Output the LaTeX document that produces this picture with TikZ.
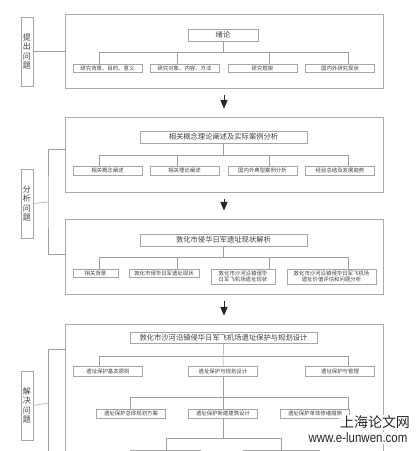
\documentclass[tikz,border=0pt]{standalone}
\usepackage{fontspec}
\newfontfamily\cjk{Noto Sans CJK SC}
\newfontfamily\urlfont[FakeStretch=0.85]{Liberation Sans}
\usetikzlibrary{arrows,positioning}

\begin{document}
\begin{tikzpicture}[x=1pt,y=-1pt]

    \tikzstyle{frame} = [draw=gray!65, line width=0.7pt, rectangle,
    minimum width=318pt, minimum height=75pt, inner sep=0pt]

    \tikzstyle{head} = [draw=gray!70, line width=0.6pt, rectangle, fill=white,
    minimum height=12pt, inner sep=0pt, font=\cjk\fontsize{7.3}{8}\selectfont, text=black!75]

    \tikzstyle{item} = [draw=gray!70, line width=0.5pt, rectangle, fill=white,
    minimum width=69pt, minimum height=8pt, inner sep=0pt, align=center,
    font=\cjk\fontsize{5.4}{6.6}\selectfont, text=black!75]

    \tikzstyle{side} = [draw=gray!70, line width=0.6pt, rectangle,
    minimum width=12pt, minimum height=69pt, inner sep=0pt, align=center,
    font=\cjk\fontsize{8}{9.3}\selectfont, text=black!75]

    \tikzstyle{link} = [draw=gray!75, line width=0.5pt]
    \tikzstyle{flow} = [draw=black!85, line width=1pt, -triangle 45,
    shorten <=7pt, shorten >=8pt]
    \tikzstyle{stamp} = [fill=white, inner sep=1pt, text=black!85]

    \useasboundingbox (0,0) rectangle (420,451);
    \clip (0,0) rectangle (420,451);

    % stages
    \draw
    (224,51) node [frame, minimum height=74pt] (F1) {}
    (224,154.5) node [frame] (F2) {}
    (224,256.5) node [frame] (F3) {}
    (224,404) node [frame, minimum height=160pt] (F4) {}
    (27,51.5) node [side] (L1) {提\\出\\问\\题}
    (27,203.5) node [side] (L2) {分\\析\\问\\题}
    (27,405.5) node [side] (L3) {解\\决\\问\\题}
    ;

    % left brackets
    \coordinate (J2) at (48,202);
    \coordinate (J3) at (48,403);
    \coordinate (K4) at (65,349);
    \coordinate (K5) at (48,470);
    \draw[link] (L1.east) -- (L1.east -| F1.west);
    \draw[link] (L2.east) -- (J2);
    \draw[link] ([yshift=5.5pt]F2.west) -| (J2) |- ([yshift=2.5pt]F3.west);
    \draw[link] (L3.east) -- (J3);
    \draw[link] (K4) -| (K5);

    \draw[flow] (F1) -- (F2);
    \draw[flow] (F2) -- (F3);
    \draw[flow] (F3) -- (F4.north);

    % stage 1
    \draw
    (223,35) node [head, minimum width=70pt] (T1) {绪论}
    (107.5,68) node [item] (A1) {研究背景、目的、意义}
    (184.5,68) node [item] (A2) {研究对象、内容、方法}
    (262.5,68) node [item] (A3) {研究框架}
    (340,68) node [item] (A4) {国内外研究现状}
    ;
    \coordinate (Q1a) at (99,52);
    \coordinate (Q1b) at (177,52);
    \coordinate (Q1c) at (269,52);
    \coordinate (Q1d) at (348,52);
    \draw[link] (Q1a) -- (Q1d);
    \draw[link] (T1) -- (T1 |- Q1a);
    \foreach \q/\n in {Q1a/A1, Q1b/A2, Q1c/A3, Q1d/A4}
      \draw[link] (\q) -- (\q |- \n.north);

    % stage 2
    \draw
    (223.5,137) node [head, minimum width=167pt] (T2) {相关概念理论阐述及实际案例分析}
    (107.5,170.5) node [item, minimum height=9pt] (B1) {相关概念阐述}
    (184.5,170.5) node [item, minimum height=9pt] (B2) {相关理论阐述}
    (262.5,170.5) node [item, minimum height=9pt] (B3) {国内外典型案例分析}
    (340,170.5) node [item, minimum height=9pt] (B4) {经验总结及发展趋势}
    ;
    \coordinate (Q2a) at (99,155);
    \coordinate (Q2b) at (177,155);
    \coordinate (Q2c) at (269,155);
    \coordinate (Q2d) at (348,155);
    \draw[link] (Q2a) -- (Q2d);
    \draw[link] (T2) -- (T2 |- Q2a);
    \foreach \q/\n in {Q2a/B1, Q2b/B2, Q2c/B3, Q2d/B4}
      \draw[link] (\q) -- (\q |- \n.north);

    % stage 3
    \draw
    (223.5,240) node [head, minimum width=167pt] (T3) {敦化市侵华日军遗址现状解析}
    (95.5,273) node [item, minimum width=45pt] (C1) {相关背景}
    (164,273) node [item, minimum width=70pt] (C2) {敦化市侵华日军遗址现状}
    (243,276.5) node [item, minimum width=64pt, minimum height=15pt] (C3)
      {敦化市沙河沿镇侵华\\日军飞机场遗址现状}
    (331.5,276.5) node [item, minimum width=89pt, minimum height=15pt] (C4)
      {敦化市沙河沿镇侵华日军飞机场\\遗址价值评估和问题分析}
    ;
    \coordinate (Q3a) at (99,257);
    \coordinate (Q3b) at (177,257);
    \coordinate (Q3c) at (269,257);
    \coordinate (Q3d) at (348,257);
    \draw[link] (Q3a) -- (Q3d);
    \draw[link] (T3) -- (T3 |- Q3a);
    \foreach \q/\n in {Q3a/C1, Q3b/C2, Q3c/C3, Q3d/C4}
      \draw[link] (\q) -- (\q |- \n.north);

    % stage 4
    \draw
    (223.5,337.5) node [head, minimum width=187pt, minimum height=11pt] (T4)
      {敦化市沙河沿镇侵华日军飞机场遗址保护与规划设计}
    (108,371) node [item, minimum height=10pt] (D1) {遗址保护基本原则}
    (223,371) node [item, minimum height=10pt] (D2) {遗址保护与规划设计}
    (340,371) node [item, minimum height=10pt] (D3) {遗址保护与管理}
    (131,413.5) node [item, minimum height=9pt] (E1) {遗址保护总体规划方案}
    (223,413.5) node [item, minimum height=9pt] (E2) {遗址保护新建建筑设计}
    (315,413.5) node [item, minimum height=9pt] (E3) {遗址保护单体修缮措施}
    (165,460) node [item, minimum width=70pt, minimum height=20pt] (G1) {}
    (281,460) node [item, minimum width=76pt, minimum height=20pt] (G2) {}
    ;
    \coordinate (Q4a) at (99,356);
    \coordinate (Q4c) at (348,356);
    \coordinate (R4a) at (130,397);
    \coordinate (R4c) at (348,397);
    \coordinate (S4a) at (166,438);
    \coordinate (S4b) at (281,438);
    \draw[link] (Q4a) -- (Q4c);
    \draw[link] (R4a) -- (R4c);
    \draw[link] (S4a) -- (S4b);
    \draw[link] (T4) -- (D2);
    \draw[link] (D2) -- (E2);
    \draw[link] (E2) -- (E2 |- S4a);
    \foreach \q/\n in {Q4a/D1, Q4c/D3, R4a/E1, R4c/E3, S4a/G1, S4b/G2}
      \draw[link] (\q) -- (\q |- \n.north);

    % watermark
    \draw
    (375,422.5) node [stamp, font=\cjk\fontsize{14}{14}\selectfont] (W1) {上海论文网}
    (358,438) node [stamp, font=\urlfont\fontsize{13.5}{14}\selectfont] (W2) {www.e-lunwen.com}
    ;
  \end{tikzpicture}
\end{document}
